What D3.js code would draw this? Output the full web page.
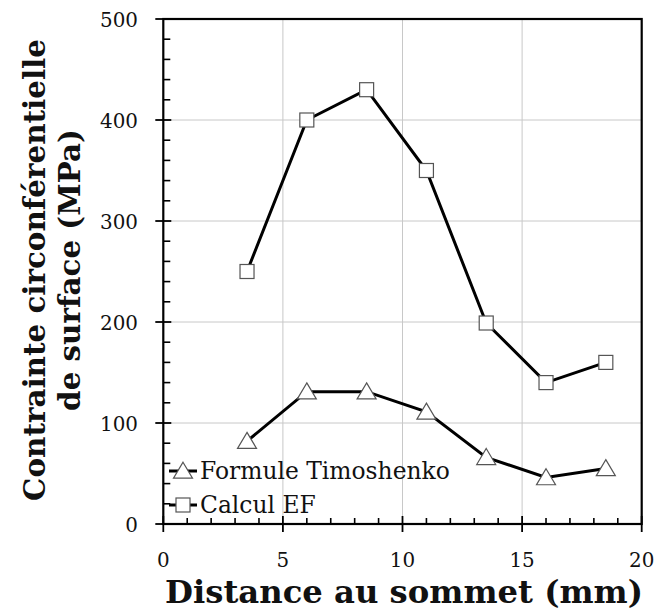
<!DOCTYPE html>
<html><head><meta charset="utf-8">
<script src="https://cdn.jsdelivr.net/npm/d3@7"></script>
<style>body{margin:0;background:#fff}svg{display:block}
.rs{font-family:"DejaVu Serif",serif}
.bs{font-family:"DejaVu Serif",serif;font-weight:bold}</style>
</head><body><svg id="c" width="658" height="612"></svg>
<script>
const distances = [3.5, 6, 8.5, 11, 13.5, 16, 18.5];
const timoshenko = [82, 131, 131, 111, 66, 46, 55];
const calculEF = [250, 400, 430, 350, 199, 140, 160];
const seriesNames = ["Formule Timoshenko", "Calcul EF"];
const xTicks = [0, 5, 10, 15, 20];
const yTicks = [0, 100, 200, 300, 400, 500];
const xTitle = "Distance au sommet (mm)";
const yTitle = ["Contrainte circonférentielle", "de surface (MPa)"];

const svg = d3.select("#c");
const L = 163.3, R = 641.7, T = 19, B = 524;
const x = d3.scaleLinear().domain([0, 20]).range([L, R]);
const y = d3.scaleLinear().domain([0, 500]).range([B, T]);

function fit(t, w) {
  const l = t.node().getComputedTextLength();
  const fs = parseFloat(t.attr("font-size"));
  t.attr("font-size", fs * w / l);
  return fs * w / l;
}

// grid
svg.append("g").selectAll("line").data(xTicks.filter(d => d > 0 && d < 20)).join("line")
  .attr("x1", d => x(d)).attr("x2", d => x(d)).attr("y1", T).attr("y2", B)
  .attr("stroke", "#c8c8c8").attr("stroke-width", 1);
svg.append("g").selectAll("line").data(yTicks.filter(d => d > 0 && d < 500)).join("line")
  .attr("y1", d => y(d)).attr("y2", d => y(d)).attr("x1", L).attr("x2", R)
  .attr("stroke", "#c8c8c8").attr("stroke-width", 1);

// minor ticks
const xMinor = d3.range(0, 21, 1).filter(d => d % 5 !== 0);
const yMinor = d3.range(0, 501, 20).filter(d => d % 100 !== 0);
svg.append("g").selectAll("line").data(xMinor).join("line")
  .attr("x1", d => x(d)).attr("x2", d => x(d)).attr("y1", B).attr("y2", B - 6)
  .attr("stroke", "#000").attr("stroke-width", 1.6);
svg.append("g").selectAll("line").data(yMinor).join("line")
  .attr("y1", d => y(d)).attr("y2", d => y(d)).attr("x1", L).attr("x2", L + 7)
  .attr("stroke", "#000").attr("stroke-width", 1.6);
// major ticks
svg.append("g").selectAll("line").data(xTicks).join("line")
  .attr("x1", d => x(d)).attr("x2", d => x(d)).attr("y1", B + 8).attr("y2", B - 8)
  .attr("stroke", "#000").attr("stroke-width", 1.8);
svg.append("g").selectAll("line").data(yTicks).join("line")
  .attr("y1", d => y(d)).attr("y2", d => y(d)).attr("x1", L - 8).attr("x2", L + 8)
  .attr("stroke", "#000").attr("stroke-width", 1.8);

// frame
svg.append("rect").attr("x", L).attr("y", T).attr("width", R - L).attr("height", B - T)
  .attr("fill", "none").attr("stroke", "#000").attr("stroke-width", 2.2);

// tick label size from "500" width
const probe = svg.append("text").attr("class", "rs").attr("font-size", 20).text("500");
const tfs = fit(probe, 38);
probe.remove();

svg.append("g").selectAll("text").data(xTicks).join("text").attr("class", "rs")
  .attr("x", d => x(d)).attr("y", 567).attr("text-anchor", "middle")
  .attr("font-size", tfs).attr("fill", "#111").text(d => d);
svg.append("g").selectAll("text").data(yTicks).join("text").attr("class", "rs")
  .attr("x", 138).attr("y", d => y(d) + 8).attr("text-anchor", "end")
  .attr("font-size", tfs).attr("fill", "#111").text(d => d);

// lines
const line = d3.line().x(d => x(d[0])).y(d => y(d[1]));
const tData = distances.map((d, i) => [d, timoshenko[i]]);
const eData = distances.map((d, i) => [d, calculEF[i]]);
[tData, eData].forEach(dat => {
  svg.append("path").datum(dat).attr("d", line).attr("fill", "none")
    .attr("stroke", "#000").attr("stroke-width", 3);
});
function triPath(cx, cy) {
  const w = 9.5, h = 16;
  return `M${cx},${cy - h * 0.55}L${cx + w},${cy + h * 0.45}L${cx - w},${cy + h * 0.45}Z`;
}
svg.append("g").selectAll("path").data(tData).join("path")
  .attr("d", d => triPath(x(d[0]), y(d[1])))
  .attr("fill", "#fff").attr("stroke", "#555").attr("stroke-width", 1.2);
svg.append("g").selectAll("rect").data(eData).join("rect")
  .attr("x", d => x(d[0]) - 7).attr("y", d => y(d[1]) - 7).attr("width", 14).attr("height", 14)
  .attr("fill", "#fff").attr("stroke", "#555").attr("stroke-width", 1.2);

// legend
const leg = svg.append("g");
const rows = [471, 505];
const legW = [250, 108];
let lfs = null;
seriesNames.forEach((n, i) => {
  const cy = rows[i];
  leg.append("line").attr("x1", 169).attr("x2", 197).attr("y1", cy).attr("y2", cy)
    .attr("stroke", "#000").attr("stroke-width", 3);
  if (i === 0) leg.append("path").attr("d", triPath(183, cy)).attr("fill", "#fff").attr("stroke", "#555").attr("stroke-width", 1.2);
  else leg.append("rect").attr("x", 176).attr("y", cy - 7).attr("width", 14).attr("height", 14).attr("fill", "#fff").attr("stroke", "#555").attr("stroke-width", 1.2);
  const t = leg.append("text").attr("class", "rs").attr("x", 200).attr("y", cy + 8)
    .attr("font-size", 20).attr("fill", "#111").text(n);
  if (i === 0) lfs = fit(t, legW[0]); else t.attr("font-size", lfs);
});

// titles
const xt = svg.append("text").attr("class", "bs").attr("x", 404).attr("y", 603).attr("text-anchor", "middle")
  .attr("font-size", 26).attr("fill", "#111").text(xTitle);
fit(xt, 478);
const yt1 = svg.append("text").attr("class", "bs").attr("transform", "translate(45,270) rotate(-90)").attr("text-anchor", "middle")
  .attr("font-size", 26).attr("fill", "#111").text(yTitle[0]);
fit(yt1, 462);
const yt2 = svg.append("text").attr("class", "bs").attr("transform", "translate(80,270) rotate(-90)").attr("text-anchor", "middle")
  .attr("font-size", 26).attr("fill", "#111").text(yTitle[1]);
yt2.attr("font-size", yt1.attr("font-size"));
</script></body></html>
